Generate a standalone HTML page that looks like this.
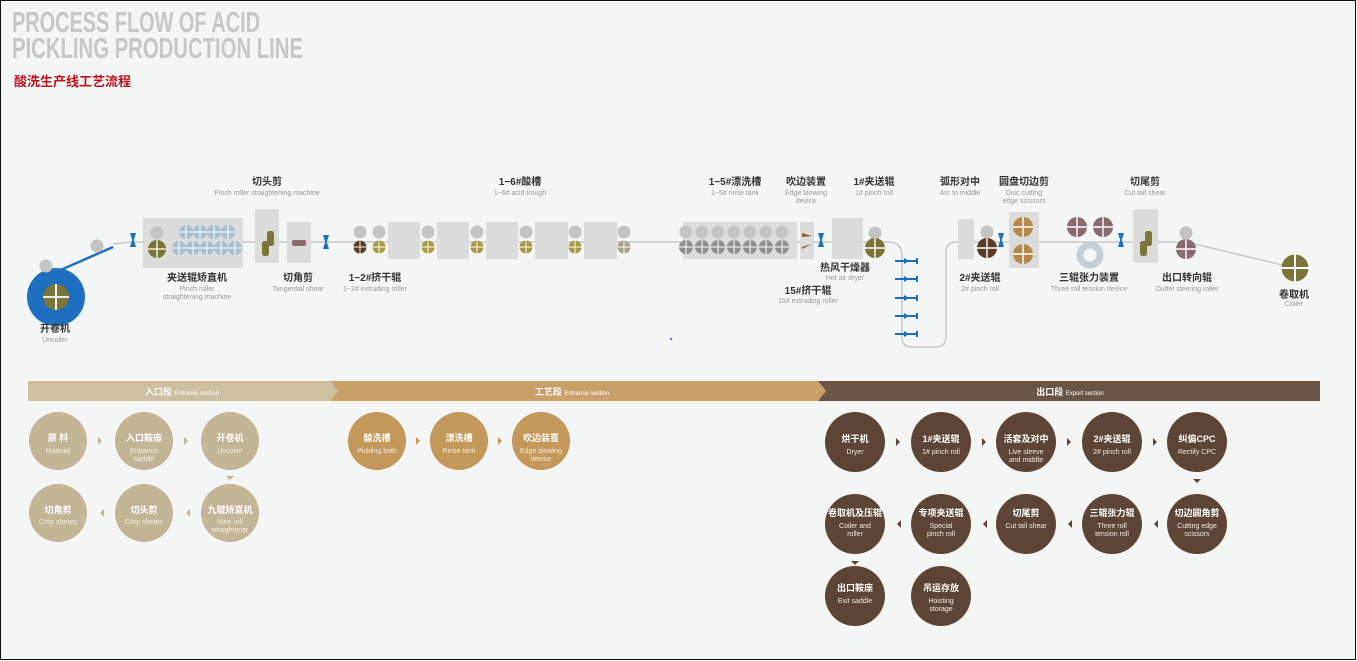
<!DOCTYPE html>
<html><head><meta charset="utf-8"><style>
html,body{margin:0;padding:0;background:#f4f5f5}
svg{display:block}
text{font-family:"Liberation Sans","Noto Sans CJK SC",sans-serif}
.cn{font-size:10px;font-weight:bold;fill:#333;text-anchor:middle}
.en{font-size:7px;fill:#999;text-anchor:middle}
.cw{font-size:9px;font-weight:bold;fill:#fff;text-anchor:middle}
.ew{font-size:7px;fill:#f3ece0;text-anchor:middle}
</style></head><body>
<svg width="1357" height="661" viewBox="0 0 1357 661" xmlns="http://www.w3.org/2000/svg">
<defs>
<g id="r"><circle r="10"/><path d="M-10 0H10M0 -10V10" stroke="#fff" stroke-width="1.4"/></g>
<g id="s"><path d="M-3 -7H3L0.8 0L3 7H-3L-0.8 0Z" fill="#1f6fc0"/></g>
<g id="g"><circle r="6.5" fill="#c4c4c4"/></g>
<g id="m"><path d="M-11 0H11" stroke="#1f6fc0" stroke-width="2"/><path d="M-2 -3L3 0L-2 3Z" fill="#1f6fc0"/><path d="M11 -3V3" stroke="#1f6fc0" stroke-width="2"/></g>
<g id="sh"><rect x="-1" y="-12" width="7" height="15" rx="2.5"/><rect x="-6" y="-2" width="7" height="15" rx="2.5"/></g>
</defs>
<rect x="0.5" y="0.5" width="1355" height="659" fill="#f4f5f5" stroke="#111" stroke-width="1"/>
<text x="12" y="32" font-family="Liberation Sans Narrow,Liberation Sans,sans-serif" font-weight="bold" font-size="29" fill="#c7c7c7" textLength="248" lengthAdjust="spacingAndGlyphs">PROCESS FLOW OF ACID</text>
<text x="12" y="58" font-family="Liberation Sans Narrow,Liberation Sans,sans-serif" font-weight="bold" font-size="29" fill="#c7c7c7" textLength="291" lengthAdjust="spacingAndGlyphs">PICKLING PRODUCTION LINE</text>
<text x="14" y="86" font-size="13" font-weight="bold" fill="#c0121c">酸洗生产线工艺流程</text>

<path d="M113 244 L130 242 H888 Q902 242 902 256 V338 Q902 347 912 347 H936 Q946 347 946 337 V252 Q946 242 956 242 H1186 L1295 268" fill="none" stroke="#c9c9c9" stroke-width="1.5"/>
<path d="M56 272 L113 247" stroke="#1f6fc0" stroke-width="2.5"/>
<circle cx="56" cy="297" r="29" fill="#1f6fc0"/>
<use href="#r" transform="translate(56,297) scale(1.3)" fill="#7a7538"/>
<use href="#g" x="46" y="266"/><use href="#g" x="97" y="246"/>

<use href="#s" x="133" y="240"/><use href="#s" x="326" y="242"/><use href="#s" x="821" y="240"/><use href="#s" x="1001" y="240"/><use href="#s" x="1121" y="240"/>

<rect x="143" y="218" width="100" height="50" fill="#dcdcdc"/>
<use href="#g" x="157" y="233"/>
<use href="#r" transform="translate(157,249) scale(.9)" fill="#7a7538"/>
<g fill="#a9bfcc">
<use href="#r" transform="translate(186,232) scale(.7)"/><use href="#r" transform="translate(200,232) scale(.7)"/><use href="#r" transform="translate(214,232) scale(.7)"/><use href="#r" transform="translate(228,232) scale(.7)"/>
<use href="#r" transform="translate(179,248) scale(.7)"/><use href="#r" transform="translate(193,248) scale(.7)"/><use href="#r" transform="translate(207,248) scale(.7)"/><use href="#r" transform="translate(221,248) scale(.7)"/><use href="#r" transform="translate(235,248) scale(.7)"/>
</g>
<rect x="255" y="209" width="24" height="54" fill="#dcdcdc"/>
<use href="#sh" x="268" y="243" fill="#7a7538"/>
<rect x="287" y="222" width="24" height="41" fill="#dcdcdc"/>
<rect x="292" y="240" width="14" height="6" rx="2" fill="#8a6a6e"/>
<use href="#g" x="360" y="232"/><use href="#g" x="379" y="232"/>
<use href="#r" transform="translate(360,247) scale(.65)" fill="#5a3a22"/>
<use href="#r" transform="translate(379,247) scale(.65)" fill="#a89a45"/>
<g fill="#dcdcdc">
<rect x="388" y="222" width="32" height="37"/><rect x="437" y="222" width="32" height="37"/><rect x="486" y="222" width="32" height="37"/><rect x="535" y="222" width="33" height="37"/><rect x="584" y="222" width="33" height="37"/>
<rect x="683" y="222" width="114" height="37"/><rect x="800" y="222" width="14" height="37"/><rect x="832" y="218" width="31" height="41"/>
</g>
<g fill="#a89a45">
<use href="#g" x="428" y="232"/><use href="#r" transform="translate(428,247) scale(.65)"/>
<use href="#g" x="477" y="232"/><use href="#r" transform="translate(477,247) scale(.65)"/>
<use href="#g" x="526" y="232"/><use href="#r" transform="translate(526,247) scale(.65)"/>
<use href="#g" x="575" y="232"/><use href="#r" transform="translate(575,247) scale(.65)"/>
<use href="#g" x="624" y="232"/><use href="#r" transform="translate(624,247) scale(.65)" fill="#a8a48a"/>
</g>
<g fill="#8f8f8f">
<use href="#g" x="686" y="232"/><use href="#g" x="702" y="232"/><use href="#g" x="718" y="232"/><use href="#g" x="734" y="232"/><use href="#g" x="750" y="232"/><use href="#g" x="766" y="232"/><use href="#g" x="782" y="232"/>
<use href="#r" transform="translate(686,247) scale(.7)"/><use href="#r" transform="translate(702,247) scale(.7)"/><use href="#r" transform="translate(718,247) scale(.7)"/><use href="#r" transform="translate(734,247) scale(.7)"/><use href="#r" transform="translate(750,247) scale(.7)"/><use href="#r" transform="translate(766,247) scale(.7)"/><use href="#r" transform="translate(782,247) scale(.7)"/>
</g>
<path d="M802 233l10 3-10 1zM802 247l10 -3-10 5z" fill="#8a5a2a"/>
<use href="#g" x="875" y="233"/>
<use href="#r" transform="translate(875,248) scale(1)" fill="#7a7538"/>
<use href="#m" x="906" y="261"/><use href="#m" x="906" y="279"/><use href="#m" x="906" y="298"/><use href="#m" x="906" y="316"/><use href="#m" x="906" y="334"/>
<rect x="958" y="219" width="16" height="40" fill="#dcdcdc"/>
<use href="#g" x="987" y="232"/>
<use href="#r" transform="translate(987,248) scale(1)" fill="#5a3a22"/>
<rect x="1009" y="212" width="30" height="56" fill="#dcdcdc"/>
<use href="#r" transform="translate(1023,227) scale(1)" fill="#b48a4a"/>
<use href="#r" transform="translate(1023,254) scale(1)" fill="#b48a4a"/>
<use href="#r" transform="translate(1077,227) scale(1)" fill="#8a6a6e"/>
<use href="#r" transform="translate(1103,227) scale(1)" fill="#8a6a6e"/>
<circle cx="1090" cy="255" r="10" fill="none" stroke="#c5ced5" stroke-width="7"/>
<rect x="1133" y="209" width="25" height="54" fill="#dcdcdc"/>
<use href="#sh" x="1146" y="243" fill="#7a7538"/>
<use href="#g" x="1186" y="233"/>
<use href="#r" transform="translate(1186,249) scale(1)" fill="#8a6a6e"/>
<use href="#r" transform="translate(1295,268) scale(1.35)" fill="#7a7538"/>

<text class="cn" x="267" y="185">切头剪</text><text class="en" x="267" y="195">Pinch roller straightening machine</text>
<text class="cn" x="520" y="185">1−6#酸槽</text><text class="en" x="520" y="195">1−6# acid trough</text>
<text class="cn" x="735" y="185">1−5#漂洗槽</text><text class="en" x="735" y="195">1−5# rinse tank</text>
<text class="cn" x="806" y="185">吹边装置</text><text class="en" x="806" y="195">Edge blowing</text><text class="en" x="806" y="203">device</text>
<text class="cn" x="874" y="185">1#夹送辊</text><text class="en" x="874" y="195">1# pinch roll</text>
<text class="cn" x="960" y="185">弧形对中</text><text class="en" x="960" y="195">Arc to middle</text>
<text class="cn" x="1024" y="185">圆盘切边剪</text><text class="en" x="1024" y="195">Disc cutting</text><text class="en" x="1024" y="203">edge scissors</text>
<text class="cn" x="1145" y="185">切尾剪</text><text class="en" x="1145" y="195">Cut tail shear</text>
<text class="cn" x="55" y="332">开卷机</text><text class="en" x="55" y="342">Uncoiler</text>
<text class="cn" x="197" y="281">夹送辊矫直机</text><text class="en" x="197" y="291">Pinch roller</text><text class="en" x="197" y="299">straightening machine</text>
<text class="cn" x="298" y="281">切角剪</text><text class="en" x="298" y="291">Tangential shear</text>
<text class="cn" x="375" y="281">1−2#挤干辊</text><text class="en" x="375" y="291">1−2# extruding roller</text>
<text class="cn" x="845" y="271">热风干燥器</text><text class="en" x="845" y="280">Hot air dryer</text>
<text class="cn" x="808" y="294">15#挤干辊</text><text class="en" x="808" y="303">15# extruding roller</text>
<text class="cn" x="980" y="281">2#夹送辊</text><text class="en" x="980" y="291">2# pinch roll</text>
<text class="cn" x="1089" y="281">三辊张力装置</text><text class="en" x="1089" y="291">Three roll tension device</text>
<text class="cn" x="1187" y="281">出口转向辊</text><text class="en" x="1187" y="291">Outlet steering roller</text>
<text class="cn" x="1294" y="298">卷取机</text><text class="en" x="1294" y="306">Coiler</text>
<circle cx="671" cy="339" r="1.2" fill="#6a6ad0"/>

<path d="M28 381H330L338 391L330 401H28Z" fill="#cdbfa0"/>
<path d="M330 381H818L826 391L818 401H330L338 391Z" fill="#c8a068"/>
<path d="M818 381H1320V401H818L826 391Z" fill="#6b5443"/>
<text x="182" y="395" font-size="9" font-weight="bold" fill="#fff" text-anchor="middle">入口段 <tspan font-size="6" font-weight="normal">Entrance section</tspan></text>
<text x="572" y="395" font-size="9" font-weight="bold" fill="#fff" text-anchor="middle">工艺段 <tspan font-size="6" font-weight="normal">Entrance section</tspan></text>
<text x="1070" y="395" font-size="9" font-weight="bold" fill="#fff" text-anchor="middle">出口段 <tspan font-size="6" font-weight="normal">Export section</tspan></text>

<g fill="#c4b597">
<circle cx="58" cy="441" r="29"/><circle cx="144" cy="441" r="29"/><circle cx="230" cy="441" r="29"/>
<circle cx="58" cy="513" r="29"/><circle cx="144" cy="513" r="29"/><circle cx="230" cy="513" r="29"/>
<path d="M98 437l4 4-4 4z"/><path d="M184 437l4 4-4 4z"/><path d="M226 476h8l-4 4z"/>
<path d="M104 509l-4 4 4 4z"/><path d="M190 509l-4 4 4 4z"/>
</g>
<text class="cw" x="58" y="441">原 料</text><text class="ew" x="58" y="453">Material</text>
<text class="cw" x="144" y="441">入口鞍座</text><text class="ew" x="144" y="453">Entrance</text><text class="ew" x="144" y="461">saddle</text>
<text class="cw" x="230" y="441">开卷机</text><text class="ew" x="230" y="453">Uncoiler</text>
<text class="cw" x="58" y="513">切角剪</text><text class="ew" x="58" y="524">Crop shears</text>
<text class="cw" x="144" y="513">切头剪</text><text class="ew" x="144" y="524">Crop shears</text>
<text class="cw" x="230" y="513">九辊矫直机</text><text class="ew" x="230" y="524">Nine roll</text><text class="ew" x="230" y="532">straightener</text>
<g fill="#c4975a"><circle cx="377" cy="441" r="29"/><circle cx="459" cy="441" r="29"/><circle cx="541" cy="441" r="29"/>
<path d="M416 437l4 4-4 4z"/><path d="M498 437l4 4-4 4z"/></g>
<text class="cw" x="377" y="441">酸洗槽</text><text class="ew" x="377" y="453">Pickling bath</text>
<text class="cw" x="459" y="441">漂洗槽</text><text class="ew" x="459" y="453">Rinse tank</text>
<text class="cw" x="541" y="441">吹边装置</text><text class="ew" x="541" y="453">Edge blowing</text><text class="ew" x="541" y="461">device</text>
<g fill="#5e4434">
<circle cx="855" cy="442" r="30"/><circle cx="941" cy="442" r="30"/><circle cx="1026" cy="442" r="30"/><circle cx="1112" cy="442" r="30"/><circle cx="1197" cy="442" r="30"/>
<circle cx="855" cy="524" r="30"/><circle cx="941" cy="524" r="30"/><circle cx="1026" cy="524" r="30"/><circle cx="1112" cy="524" r="30"/><circle cx="1197" cy="524" r="30"/>
<circle cx="855" cy="596" r="30"/><circle cx="941" cy="596" r="30"/>
<path d="M896 438l4 4-4 4z"/><path d="M982 438l4 4-4 4z"/><path d="M1067 438l4 4-4 4z"/><path d="M1153 438l4 4-4 4z"/><path d="M1193 479h8l-4 4z"/>
<path d="M1158 520l-4 4 4 4z"/><path d="M1072 520l-4 4 4 4z"/><path d="M987 520l-4 4 4 4z"/><path d="M901 520l-4 4 4 4z"/><path d="M851 561h8l-4 4z"/>
</g>
<text class="cw" x="855" y="442">烘干机</text><text class="ew" x="855" y="454">Dryer</text>
<text class="cw" x="941" y="442">1#夹送辊</text><text class="ew" x="941" y="454">1# pinch roll</text>
<text class="cw" x="1026" y="442">活套及对中</text><text class="ew" x="1026" y="454">Live sleeve</text><text class="ew" x="1026" y="462">and middle</text>
<text class="cw" x="1112" y="442">2#夹送辊</text><text class="ew" x="1112" y="454">2# pinch roll</text>
<text class="cw" x="1197" y="442">纠偏CPC</text><text class="ew" x="1197" y="454">Rectify CPC</text>
<text class="cw" x="855" y="516">卷取机及压辊</text><text class="ew" x="855" y="528">Coiler and</text><text class="ew" x="855" y="536">roller</text>
<text class="cw" x="941" y="516">专项夹送辊</text><text class="ew" x="941" y="528">Special</text><text class="ew" x="941" y="536">pinch roll</text>
<text class="cw" x="1026" y="516">切尾剪</text><text class="ew" x="1026" y="528">Cut tail shear</text>
<text class="cw" x="1112" y="516">三辊张力辊</text><text class="ew" x="1112" y="528">Three roll</text><text class="ew" x="1112" y="536">tension roll</text>
<text class="cw" x="1197" y="516">切边圆角剪</text><text class="ew" x="1197" y="528">Cutting edge</text><text class="ew" x="1197" y="536">scissors</text>
<text class="cw" x="855" y="591">出口鞍座</text><text class="ew" x="855" y="603">Exit saddle</text>
<text class="cw" x="941" y="591">吊运存放</text><text class="ew" x="941" y="603">Hoisting</text><text class="ew" x="941" y="611">storage</text>
</svg>
</body></html>
